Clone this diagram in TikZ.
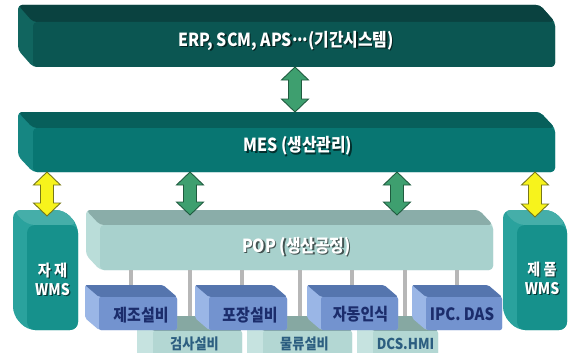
\documentclass[tikz,border=0pt]{standalone}
\usepackage{fontspec}
\setmainfont{Noto Sans CJK KR}[FakeStretch=0.88]
\usetikzlibrary{calc}
\definecolor{erpF}{HTML}{0B5652}
\definecolor{erpT}{HTML}{0A4240}
\definecolor{erpS}{HTML}{11655F}
\definecolor{mesF}{HTML}{087672}
\definecolor{mesT}{HTML}{075F5B}
\definecolor{mesS}{HTML}{168682}
\definecolor{popF}{HTML}{A8D1CD}
\definecolor{popT}{HTML}{8AADA9}
\definecolor{popS}{HTML}{BADDD9}
\definecolor{wmsF}{HTML}{16918C}
\definecolor{wmsT}{HTML}{45AEA9}
\definecolor{wmsS}{HTML}{2AA29D}
\definecolor{eqF}{HTML}{7393CF}
\definecolor{eqT}{HTML}{5575AE}
\definecolor{eqS}{HTML}{9AB6E6}
\definecolor{loF}{HTML}{B3D7D3}
\definecolor{loT}{HTML}{86A8A2}
\definecolor{loS}{HTML}{C6E3E0}
\definecolor{eqtext}{HTML}{1B2C6B}
\definecolor{lotext}{HTML}{2C5E80}
\definecolor{linegrey}{HTML}{B7B7B7}
\definecolor{gfill}{HTML}{3E9F6F}
\definecolor{gline}{HTML}{1F5B3F}
\definecolor{yfill}{HTML}{F7F31C}
\definecolor{yline}{HTML}{77771A}
% #1 name, #2 x1, #3 y1, #4 x2, #5 y2, #6 dx, #7 dy, #8 colour prefix, #9 corner radius
\newcommand\tdbox[9]{%
  \node[boxface, minimum width={#4-#2-#6}, minimum height={#5-#3-#7}, anchor=north west] (#1) at ({#2+#6},{#3+#7}) {};
  \fill[#8S, rounded corners=#9] (#1.south west) -- ++(-#6,-#7) -- ($(#1.north west)+(-#6,-#7)$) -- ($(#1.north east)+(-#6,-#7)$) -- (#1.north east) -- (#1.south east) -- cycle;
  \fill[#8T, rounded corners=#9] ($(#1.north west)+(-#6,-#7)$) -- ($(#1.north east)+(-#6,-#7)$) -- (#1.north east) -- (#1.north west) -- cycle;
  \fill[#8F, rounded corners=#9] (#1.north west) -- (#1.north east) -- (#1.south east) -- (#1.south west) -- cycle;
  \coordinate (#1-top) at ($(#1.north)+({-#6/2},-#7)$);
}
% #1 style, #2 top point, #3 bottom point
\newcommand\dblarrow[3]{%
  \filldraw[#1] let \p1=#2, \p2=#3 in
   (\x1,\y1) -- (\x1+13.5pt,\y1-13pt) -- (\x1+6.5pt,\y1-13pt) -- (\x1+6.5pt,\y2+13pt)
   -- (\x1+13.5pt,\y2+13pt) -- (\x1,\y2) -- (\x1-13.5pt,\y2+13pt) -- (\x1-6.5pt,\y2+13pt)
   -- (\x1-6.5pt,\y1-13pt) -- (\x1-13.5pt,\y1-13pt) -- cycle;
}
% #1 name, #2 position, #3 style, #4 text
\newcommand\shlabel[4]{%
  \node[#3, text=black, opacity=0.6] (#1-sh) at ($#2+(1.3,1.3)$) {#4};
  \node[#3] (#1) at #2 {#4};
}
\newcommand\mydots{\kern0.5pt\raisebox{0.27em}{.\kern-0.6pt.\kern-0.6pt.}\kern0.3pt}
\tikzset{
  boxface/.style={inner sep=0, outer sep=0, draw=none},
  bartext/.style={inner sep=0, text=white, font=\fontsize{18}{18}\selectfont\bfseries},
  wmstext/.style={inner sep=0, text=white, align=center, font=\fontsize{16}{19}\selectfont\bfseries},
  eqlabel/.style={inner sep=0, text=eqtext, font=\fontsize{17}{17}\selectfont\bfseries},
  lolabel/.style={inner sep=0, text=lotext, font=\fontsize{15}{15}\selectfont\bfseries},
  conn/.style={draw=linegrey, line width=4pt},
  garrow/.style={fill=gfill, draw=gline, line width=0.9pt, line join=miter},
  yarrow/.style={fill=yfill, draw=yline, line width=0.9pt, line join=miter},
}
\begin{document}
\begin{tikzpicture}[x=1pt, y=-1pt]
\clip (0,0) rectangle (570,353);
\fill[white] (0,0) rectangle (570,353);
% main bars
\tdbox{erp}{18}{5}{555}{67}{15}{17}{erp}{4pt}
\tdbox{mes}{18}{112}{555}{172}{15}{16}{mes}{4pt}
\tdbox{wmsL}{13}{210}{78}{330}{14}{15}{wms}{8pt}
\tdbox{wmsR}{503}{210}{567}{330}{14}{15}{wms}{8pt}
% lower equipment row (behind)
\tdbox{lo1}{137}{316}{242}{372}{16}{15}{lo}{2pt}
\tdbox{lo2}{247}{316}{352}{372}{16}{15}{lo}{2pt}
\tdbox{lo3}{357}{316}{438}{372}{16}{15}{lo}{2pt}
% POP bar and connectors
\tdbox{pop}{86}{210}{493}{270}{14}{15}{pop}{4pt}
\coordinate (c1) at (131,0);
\coordinate (c2) at (190,0);
\coordinate (c3) at (242,0);
\coordinate (c4) at (300,0);
\coordinate (c5) at (352,0);
\coordinate (c6) at (405,0);
\coordinate (c7) at (457,0);
\draw[conn] (c1 |- pop.south) -- (c1 |- lo1-top);
\draw[conn] (c2 |- pop.south) -- (c2 |- lo1-top);
\draw[conn] (c3 |- pop.south) -- (c3 |- lo1-top);
\draw[conn] (c4 |- pop.south) -- (c4 |- lo2-top);
\draw[conn] (c5 |- pop.south) -- (c5 |- lo2-top);
\draw[conn] (c6 |- pop.south) -- (c6 |- lo3-top);
\draw[conn] (c7 |- pop.south) -- (c7 |- lo3-top);
% upper equipment row
\tdbox{eq1}{85}{285}{177}{330}{14}{12}{eq}{2pt}
\tdbox{eq2}{195}{285}{287}{330}{14}{12}{eq}{2pt}
\tdbox{eq3}{307}{285}{398}{330}{14}{12}{eq}{2pt}
\tdbox{eq4}{412}{285}{502}{330}{14}{12}{eq}{2pt}
% arrows
\coordinate (a1) at (295,0);
\coordinate (a2) at (47,0);
\coordinate (a3) at (190,0);
\coordinate (a4) at (397,0);
\coordinate (a5) at (535,0);
\dblarrow{garrow}{(a1 |- erp.south)}{(a1 |- mes-top)}
\dblarrow{yarrow}{(a2 |- mes.south)}{($(a2 |- wmsL-top)+(0,6)$)}
\dblarrow{garrow}{(a3 |- mes.south)}{($(a3 |- pop-top)+(0,5)$)}
\dblarrow{garrow}{(a4 |- mes.south)}{($(a4 |- pop-top)+(0,5)$)}
\dblarrow{yarrow}{(a5 |- mes.south)}{($(a5 |- wmsR-top)+(0,7)$)}
% labels
\shlabel{erpl}{($(erp.center)+(-8,-4)$)}{bartext}{ERP, SCM, APS\mydots(기간시스템)}
\shlabel{mesl}{($(mes.center)+(4,-4)$)}{bartext}{MES (생산관리)}
\shlabel{popl}{($(pop.center)+(0,-1)$)}{bartext}{POP (생산공정)}
\shlabel{wmsLl}{($(wmsL.center)+(0,2)$)}{wmstext}{자 재\\WMS}
\shlabel{wmsRl}{($(wmsR.center)+(0,1)$)}{wmstext}{제 품\\WMS}
\node[eqlabel] (eq1l) at ($(eq1.center)+(3,2)$) {제조설비};
\node[eqlabel] (eq2l) at ($(eq2.center)+(2,2)$) {포장설비};
\node[eqlabel] (eq3l) at ($(eq3.center)+(1,1)$) {자동인식};
\node[eqlabel] (eq4l) at ($(eq4.center)+(-2,1)$) {IPC. DAS};
\node[lolabel] (lo1l) at ($(lo1.center |- 0,344)+(-3,0)$) {검사설비};
\node[lolabel] (lo2l) at ($(lo2.center |- 0,344)+(-3,0)$) {물류설비};
\node[lolabel] (lo3l) at (lo3.center |- 0,344) {DCS.HMI};
\end{tikzpicture}
\end{document}
